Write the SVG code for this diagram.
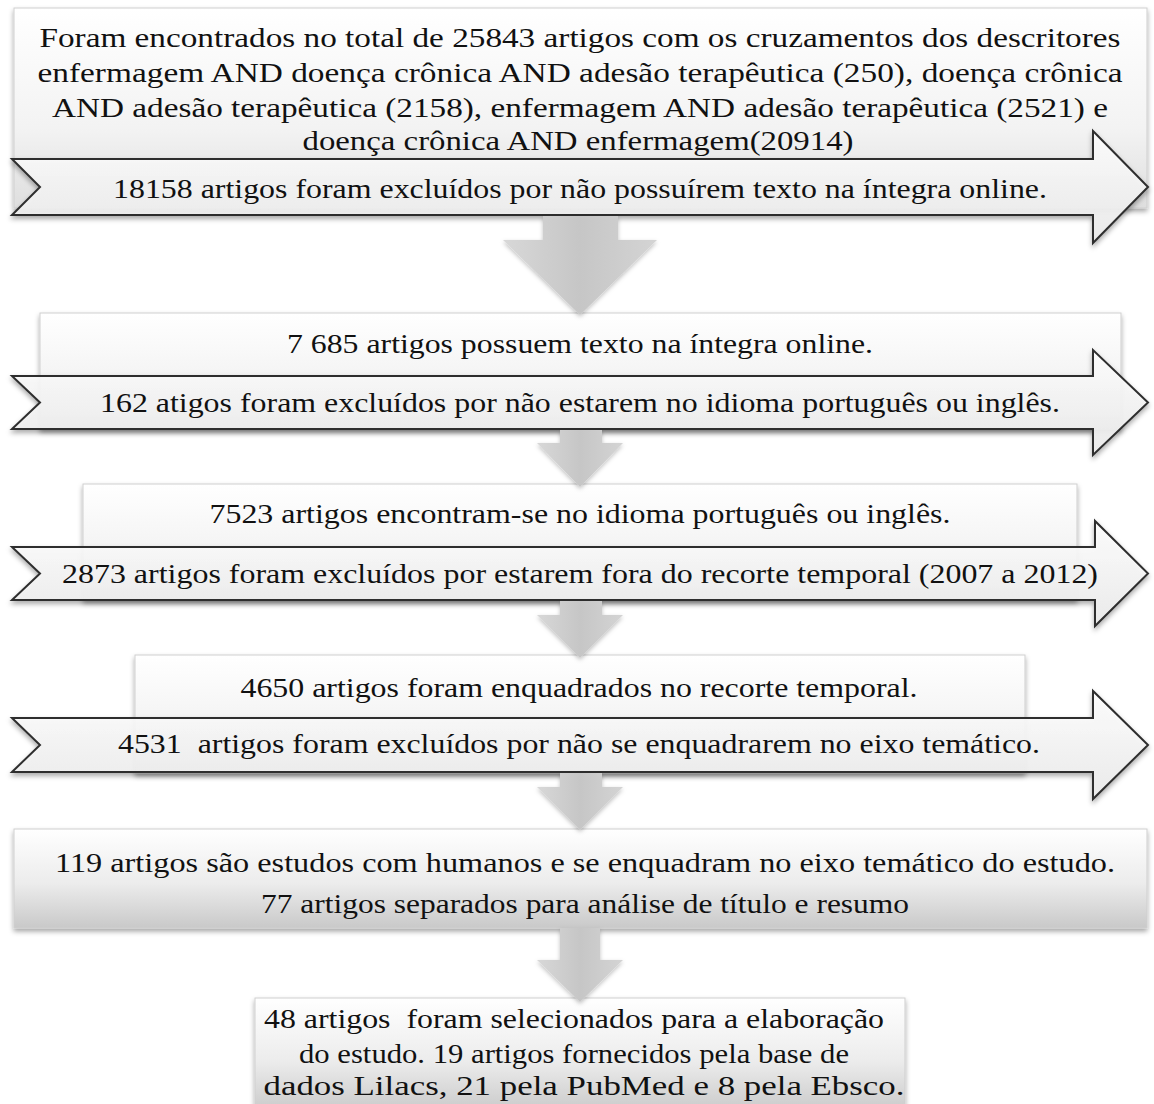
<svg xmlns="http://www.w3.org/2000/svg" width="1154" height="1104" viewBox="0 0 1154 1104">
<style>
  .t { font-family: "Liberation Serif", serif; font-size: 28px; fill: #111; text-anchor: middle; }
  .box { fill: url(#boxGrad); stroke: #cfcfcf; stroke-width: 1; filter: url(#shadow); }
  .boxd { fill: url(#boxGradDark); stroke: #cfcfcf; stroke-width: 1; filter: url(#shadow); }
  .arr { fill: url(#arrGrad); fill-opacity: 0.9; stroke: #2e2e2e; stroke-width: 2; stroke-linejoin: miter; filter: url(#shadow); }
  .down { fill: url(#downGrad); filter: url(#shadowS); }
</style>
<defs>
  <linearGradient id="boxGrad" x1="0" y1="0" x2="0" y2="1">
    <stop offset="0" stop-color="#ffffff"/>
    <stop offset="0.6" stop-color="#f3f3f3"/>
    <stop offset="1" stop-color="#dedede"/>
  </linearGradient>
  <linearGradient id="boxGradDark" x1="0" y1="0" x2="0" y2="1">
    <stop offset="0" stop-color="#ffffff"/>
    <stop offset="0.55" stop-color="#ececec"/>
    <stop offset="1" stop-color="#c9c9c9"/>
  </linearGradient>
  <linearGradient id="arrGrad" x1="0" y1="0" x2="0" y2="1">
    <stop offset="0" stop-color="#ffffff"/>
    <stop offset="1" stop-color="#ececec"/>
  </linearGradient>
  <linearGradient id="downGrad" x1="0" y1="0" x2="1" y2="0">
    <stop offset="0" stop-color="#d8d8d8"/>
    <stop offset="0.5" stop-color="#c6c6c6"/>
    <stop offset="1" stop-color="#d4d4d4"/>
  </linearGradient>
  <filter id="shadow" x="-5%" y="-20%" width="110%" height="150%">
    <feDropShadow dx="0" dy="3" stdDeviation="2.5" flood-color="#000" flood-opacity="0.35"/>
  </filter>
  <filter id="shadowS" x="-20%" y="-20%" width="140%" height="150%">
    <feDropShadow dx="0" dy="2" stdDeviation="2" flood-color="#000" flood-opacity="0.25"/>
  </filter>
</defs>
<rect width="1154" height="1104" fill="#ffffff"/>

<g id="node1">
  <rect class="box" x="14" y="8" width="1133" height="200"/>
  <text class="t" x="580" y="47" textLength="1081" lengthAdjust="spacingAndGlyphs">Foram encontrados no total de 25843 artigos com os cruzamentos dos descritores</text>
  <text class="t" x="580" y="82" textLength="1085" lengthAdjust="spacingAndGlyphs">enfermagem AND doença crônica AND adesão terapêutica (250), doença crônica</text>
  <text class="t" x="580" y="117" textLength="1056" lengthAdjust="spacingAndGlyphs">AND adesão terapêutica (2158), enfermagem AND adesão terapêutica (2521) e</text>
  <text class="t" x="578" y="150" textLength="551" lengthAdjust="spacingAndGlyphs">doença crônica AND enfermagem(20914)</text>
</g>
<g id="excl1">
  <path class="arr" d="M12,159 L1093,159 L1093,131 L1148,187 L1093,243 L1093,215 L12,215 L40,187 Z"/>
  <text class="t" x="580" y="198" textLength="934" lengthAdjust="spacingAndGlyphs">18158 artigos foram excluídos por não possuírem texto na íntegra online.</text>
</g>

<g id="node2">
  <rect class="box" x="40" y="313" width="1081" height="116"/>
  <text class="t" x="580" y="353" textLength="586" lengthAdjust="spacingAndGlyphs">7 685 artigos possuem texto na íntegra online.</text>
</g>
<g id="excl2">
  <path class="arr" d="M12,376 L1093,376 L1093,350 L1148,402.5 L1093,455 L1093,429 L12,429 L40,402.5 Z"/>
  <text class="t" x="580" y="412" textLength="960" lengthAdjust="spacingAndGlyphs">162 atigos foram excluídos por não estarem no idioma português ou inglês.</text>
</g>

<g id="node3">
  <rect class="box" x="83" y="484" width="994" height="116"/>
  <text class="t" x="580" y="523" textLength="741" lengthAdjust="spacingAndGlyphs">7523 artigos encontram-se no idioma português ou inglês.</text>
</g>
<g id="excl3">
  <path class="arr" d="M12,547 L1095,547 L1095,521 L1148,573.5 L1095,626 L1095,600 L12,600 L40,573.5 Z"/>
  <text class="t" x="580" y="583" textLength="1036" lengthAdjust="spacingAndGlyphs">2873 artigos foram excluídos por estarem fora do recorte temporal (2007 a 2012)</text>
</g>

<g id="node4">
  <rect class="box" x="135" y="655" width="890" height="118"/>
  <text class="t" x="579" y="697" textLength="677" lengthAdjust="spacingAndGlyphs">4650 artigos foram enquadrados no recorte temporal.</text>
</g>
<g id="excl4">
  <path class="arr" d="M12,718 L1093,718 L1093,691 L1148,745 L1093,799 L1093,772 L12,772 L40,745 Z"/>
  <text class="t" x="579" y="753" textLength="922" lengthAdjust="spacingAndGlyphs" xml:space="preserve">4531  artigos foram excluídos por não se enquadrarem no eixo temático.</text>
</g>

<g id="node5">
  <rect class="boxd" x="14" y="829" width="1133" height="99"/>
  <text class="t" x="585" y="872" textLength="1060" lengthAdjust="spacingAndGlyphs">119 artigos são estudos com humanos e se enquadram no eixo temático do estudo.</text>
  <text class="t" x="585" y="913" textLength="648" lengthAdjust="spacingAndGlyphs">77 artigos separados para análise de título e resumo</text>
</g>

<g id="node6">
  <rect class="boxd" x="255" y="998" width="650" height="115"/>
  <text class="t" x="574" y="1028" textLength="620" lengthAdjust="spacingAndGlyphs" xml:space="preserve">48 artigos  foram selecionados para a elaboração</text>
  <text class="t" x="574" y="1063" textLength="550" lengthAdjust="spacingAndGlyphs">do estudo. 19 artigos fornecidos pela base de</text>
  <text class="t" x="584" y="1095" textLength="641" lengthAdjust="spacingAndGlyphs">dados Lilacs, 21 pela PubMed e 8 pela Ebsco.</text>
</g>

<g id="connectors">
  <path class="down" d="M543,216 L618,216 L618,240 L657,240 L580,315 L503,240 L543,240 Z"/>
  <path class="down" d="M560,430 L602,430 L602,443 L623,443 L580,487 L537,443 L560,443 Z"/>
  <path class="down" d="M560,601 L602,601 L602,615 L623,615 L580,658 L537,615 L560,615 Z"/>
  <path class="down" d="M560,773 L602,773 L602,787 L623,787 L580,830 L537,787 L560,787 Z"/>
  <path class="down" d="M560,928 L600,928 L600,960 L623,960 L580,1002 L537,960 L560,960 Z"/>
</g>
</svg>
